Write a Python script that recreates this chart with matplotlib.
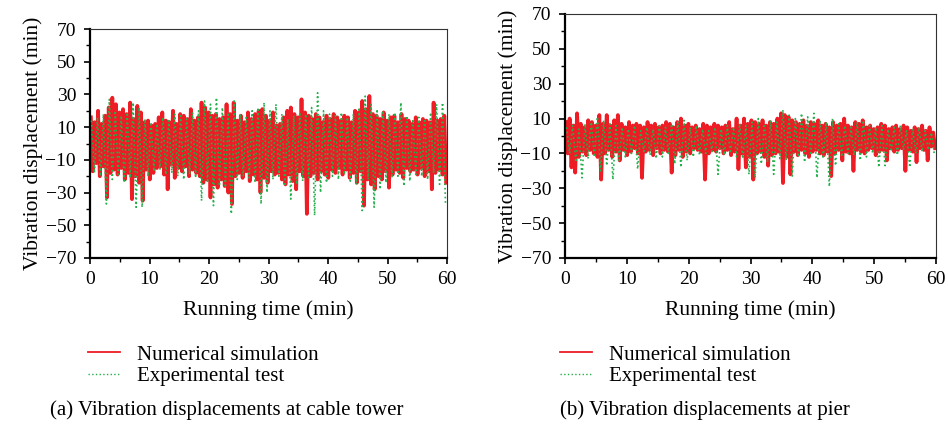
import numpy as np
import matplotlib.pyplot as plt
from matplotlib.lines import Line2D
from matplotlib.ticker import MultipleLocator

plt.rcParams['font.family'] = ['Liberation Serif', 'DejaVu Serif']

# Data #######################################################################
# Signals are stored as their successive peaks and troughs (one cycle each).

# (a) cable tower, numerical simulation: 100 cycles over 60 min
tower_sim_peaks = [16, 13, 20, 12, 17, 22, 28, 24, 19, 21,
                   18, 25, 15, 23, 19, 13, 14, 11, 12, 16,
                   19, 14, 13, 20, 12, 18, 17, 15, 21, 14,
                   16, 25, 22, 19, 17, 18, 15, 16, 24, 18,
                   25, 14, 17, 13, 19, 15, 18, 20, 21, 17,
                   14, 19, 11, 12, 16, 20, 22, 18, 16, 27,
                   19, 17, 15, 18, 16, 13, 17, 15, 18, 16,
                   14, 17, 16, 13, 20, 19, 26, 21, 29, 18,
                   17, 15, 19, 14, 16, 17, 13, 18, 15, 14,
                   12, 16, 13, 15, 14, 13, 25, 14, 15, 17]
tower_sim_troughs = [-17, -12, -20, -14, -33, -18, -16, -19, -15, -22,
                     -18, -34, -20, -24, -35, -16, -22, -18, -15, -14,
                     -19, -28, -13, -21, -15, -17, -14, -20, -16, -18,
                     -20, -24, -22, -33, -25, -27, -22, -26, -30, -37,
                     -20, -18, -21, -17, -23, -19, -22, -30, -21, -24,
                     -17, -19, -18, -22, -25, -19, -23, -28, -17, -20,
                     -43, -20, -18, -22, -17, -19, -21, -16, -18, -15,
                     -19, -16, -21, -18, -24, -17, -38, -22, -25, -28,
                     -20, -22, -17, -27, -19, -16, -18, -21, -15, -17,
                     -16, -19, -15, -20, -17, -28, -18, -16, -19, -24]

# (a) cable tower, experimental test: 60 cycles over 60 min
tower_exp_peaks = [14, 16, 18, 27, 20, 17, 19, 25, 22, 15,
                   13, 12, 16, 14, 18, 17, 15, 19, 20, 26,
                   24, 28, 22, 19, 26, 18, 16, 20, 22, 25,
                   20, 24, 18, 15, 17, 19, 18, 22, 31, 20,
                   18, 17, 19, 16, 18, 22, 29, 24, 21, 20,
                   18, 19, 25, 17, 15, 16, 14, 19, 24, 25]
tower_exp_troughs = [-18, -20, -37, -22, -19, -24, -21, -39, -39, -20,
                     -17, -16, -19, -18, -20, -22, -19, -21, -35, -24,
                     -38, -26, -27, -43, -22, -20, -21, -24, -37, -30,
                     -22, -20, -26, -34, -25, -23, -21, -44, -30, -24,
                     -20, -22, -19, -23, -25, -41, -22, -39, -28, -24,
                     -21, -20, -26, -23, -19, -20, -22, -18, -25, -37]

# (b) pier, numerical simulation: 100 cycles over 60 min
pier_sim_peaks = [8, 10, 6, 13, 7, 5, 9, 8, 6, 12,
                  7, 12, 6, 9, 12, 7, 5, 8, 6, 7,
                  6, 5, 8, 6, 7, 5, 6, 8, 7, 5,
                  8, 10, 6, 7, 5, 6, 4, 7, 6, 5,
                  7, 6, 5, 6, 8, 4, 10, 6, 10, 7,
                  9, 8, 7, 9, 6, 8, 7, 10, 13, 12,
                  11, 9, 8, 7, 9, 6, 8, 7, 9, 6,
                  7, 5, 8, 6, 7, 10, 6, 5, 8, 7,
                  9, 5, 6, 4, 5, 7, 6, 4, 5, 6,
                  4, 6, 5, 3, 5, 4, 6, 3, 5, 2]
pier_sim_troughs = [-10, -18, -21, -12, -9, -11, -8, -10, -12, -25,
                    -10, -8, -12, -9, -14, -8, -11, -9, -7, -10,
                    -24, -9, -8, -11, -7, -10, -8, -9, -21, -11,
                    -8, -12, -9, -10, -7, -8, -9, -25, -10, -8,
                    -9, -7, -10, -8, -11, -9, -19, -10, -18, -12,
                    -25, -10, -9, -12, -17, -11, -10, -9, -27, -12,
                    -22, -9, -11, -8, -10, -12, -9, -8, -10, -11,
                    -9, -23, -10, -8, -14, -9, -10, -20, -8, -9,
                    -10, -8, -7, -11, -9, -8, -14, -7, -9, -8,
                    -7, -20, -8, -9, -15, -7, -8, -14, -6, -7]

# (b) pier, experimental test: 60 cycles over 60 min
pier_exp_peaks = [5, 6, 4, 7, 8, 11, 9, 7, 6, 5,
                  4, 6, 3, 5, 4, 6, 5, 7, 8, 9,
                  5, 6, 4, 3, 5, 4, 6, 5, 7, 6,
                  8, 10, 7, 9, 8, 15, 12, 10, 13, 11,
                  13, 9, 8, 10, 7, 6, 5, 8, 9, 6,
                  5, 6, 4, 5, 6, 3, 4, 5, 3, 2]
pier_exp_troughs = [-10, -15, -24, -13, -12, -20, -17, -25, -14, -12,
                    -10, -19, -9, -11, -13, -12, -10, -16, -18, -14,
                    -12, -11, -10, -9, -22, -11, -10, -12, -13, -22,
                    -24, -16, -15, -22, -13, -14, -23, -12, -15, -11,
                    -24, -13, -29, -17, -12, -10, -11, -14, -12, -10,
                    -18, -17, -9, -11, -8, -18, -10, -9, -8, -11]

sim_label = 'Numerical simulation'
exp_label = 'Experimental test'
captions = ['(a) Vibration displacements at cable tower',
            '(b) Vibration displacements at pier']


def zigzag(peaks, troughs, t_end=60.0):
    n = len(peaks)
    step = t_end / n
    t = np.column_stack([np.arange(n) * step + 0.25 * step,
                         np.arange(n) * step + 0.75 * step]).ravel()
    y = np.column_stack([peaks, troughs]).ravel()
    return t, y


# Plot #######################################################################

W, H = 948, 428
fig = plt.figure(figsize=(W / 100, H / 100), dpi=100)

panels = [
    ((90, 29, 447, 258), tower_sim_peaks, tower_sim_troughs,
     tower_exp_peaks, tower_exp_troughs, (88, 345), 50),
    ((565, 14, 936, 258), pier_sim_peaks, pier_sim_troughs,
     pier_exp_peaks, pier_exp_troughs, (560, 345), 560),
]

red = '#ee1c24'
green = '#22b04a'

for k, (box, sp, st, ep, et, leg_xy, cap_x) in enumerate(panels):
    l, t, r, b = box
    ax = fig.add_axes([l / W, 1 - b / H, (r - l) / W, (b - t) / H])

    ts, ys = zigzag(sp, st)
    te, ye = zigzag(ep, et)
    ax.plot(ts, ys, color=red, lw=2.7, zorder=2)
    ax.plot(te, ye, color=green, lw=1.2, ls=':', zorder=3)

    ax.set_xlim(0, 60)
    ax.set_ylim(-70, 70)
    ax.xaxis.set_major_locator(MultipleLocator(10))
    ax.xaxis.set_minor_locator(MultipleLocator(5))
    ax.set_yticks([70, 50, 30, 10, -10, -30, -50, -70])
    ax.set_yticks([60, 40, 20, 0, -20, -40, -60], minor=True)

    ax.tick_params(which='major', direction='out', length=4, width=1.2,
                   labelsize=14, pad=5)
    ax.tick_params(which='minor', direction='out', length=3, width=1.0)
    ax.tick_params(axis='y', which='major', pad=6)
    for s in ['left', 'bottom']:
        ax.spines[s].set_linewidth(1.6)
    for s in ['top', 'right']:
        ax.spines[s].set_linewidth(0.8)
        ax.spines[s].set_color('#333333')

    ax.set_xlabel('Running time (min)', fontsize=15.5, labelpad=9)
    ax.set_ylabel('Vibration displacement (min)', fontsize=15.5, labelpad=2)

    handles = [Line2D([], [], color=red, lw=1.3),
               Line2D([], [], color=green, lw=1.0, ls=':')]
    fig.legend(handles, [sim_label, exp_label], loc='upper left',
               bbox_to_anchor=(leg_xy[0] / W, 1 - leg_xy[1] / H),
               frameon=False, fontsize=15, handlelength=1.55,
               handletextpad=0.8, labelspacing=0.1, borderpad=0,
               borderaxespad=0)

    fig.text(cap_x / W, 1 - 410 / H, captions[k], fontsize=15, va='center',
             ha='left')

plt.savefig('out.png', dpi=100)
